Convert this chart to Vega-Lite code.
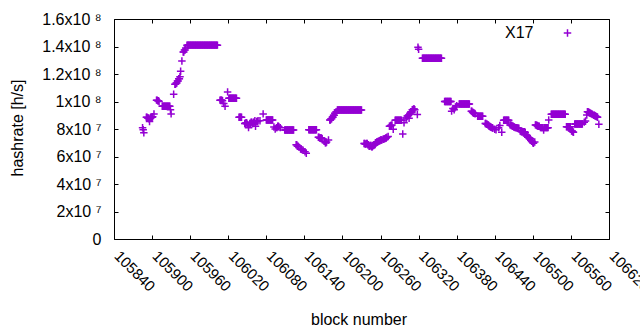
{
 "$schema": "https://vega.github.io/schema/vega-lite/v6.json",
 "width": 495, "height": 220,
 "autosize": {"type": "none"},
 "padding": {"left": 114, "top": 19, "right": 31, "bottom": 91},
 "background": "white",
 "config": {
  "font": "Liberation Sans",
  "view": {"stroke": "black", "strokeWidth": 1},
  "axis": {"grid": false, "domain": false, "tickColor": "black", "tickSize": -4, "tickWidth": 1, "labelColor": "black", "titleColor": "black", "labelFont": "Liberation Sans", "titleFont": "Liberation Sans", "titleFontWeight": "normal"}
 },
 "data": {"values": [
  {"b":105885,"mhs":81},{"b":105886,"mhs":79.5},{"b":105887,"mhs":77.3},
  {"b":105891,"mhs":88.5},{"b":105892,"mhs":88.5},{"b":105893,"mhs":88},{"b":105894,"mhs":88},{"b":105895,"mhs":87.5},{"b":105896,"mhs":85.5},{"b":105897,"mhs":88},{"b":105898,"mhs":88},{"b":105899,"mhs":88.5},{"b":105900,"mhs":88.5},{"b":105901,"mhs":89},{"b":105903,"mhs":91},
  {"b":105907,"mhs":101},{"b":105908,"mhs":101},{"b":105909,"mhs":100.5},{"b":105910,"mhs":100.5},{"b":105911,"mhs":100},
  {"b":105916,"mhs":96.5},{"b":105917,"mhs":96.5},{"b":105918,"mhs":96.5},{"b":105919,"mhs":96.5},{"b":105920,"mhs":96.5},{"b":105921,"mhs":96.5},{"b":105922,"mhs":96.5},{"b":105923,"mhs":96.5},{"b":105924,"mhs":96.5},{"b":105925,"mhs":96.5},{"b":105926,"mhs":96.5},{"b":105927,"mhs":96.5},{"b":105928,"mhs":96.5},{"b":105929,"mhs":94},{"b":105930,"mhs":91},
  {"b":105934,"mhs":105.2},
  {"b":105936,"mhs":112.5},{"b":105937,"mhs":112.5},{"b":105938,"mhs":113.5},{"b":105939,"mhs":113.5},{"b":105940,"mhs":115},{"b":105941,"mhs":115},{"b":105942,"mhs":116.5},{"b":105943,"mhs":116.5},{"b":105944,"mhs":118},{"b":105945,"mhs":122},
  {"b":105947,"mhs":129.5},
  {"b":105949,"mhs":136},{"b":105950,"mhs":136},{"b":105951,"mhs":137.5},{"b":105952,"mhs":137.5},{"b":105953,"mhs":139},
  {"b":105955,"mhs":141},{"b":105956,"mhs":141},{"b":105957,"mhs":141},{"b":105958,"mhs":141},{"b":105959,"mhs":141},{"b":105960,"mhs":141},{"b":105961,"mhs":141},{"b":105962,"mhs":141},{"b":105963,"mhs":141},{"b":105964,"mhs":141},{"b":105965,"mhs":141},{"b":105966,"mhs":141},{"b":105967,"mhs":141},{"b":105968,"mhs":141},{"b":105969,"mhs":141},{"b":105970,"mhs":141},{"b":105971,"mhs":141},{"b":105972,"mhs":141},{"b":105973,"mhs":141},{"b":105974,"mhs":141},{"b":105975,"mhs":141},{"b":105976,"mhs":141},{"b":105977,"mhs":141},{"b":105978,"mhs":141},{"b":105979,"mhs":141},{"b":105980,"mhs":141},{"b":105981,"mhs":141},{"b":105982,"mhs":141},{"b":105983,"mhs":141},{"b":105984,"mhs":141},{"b":105985,"mhs":141},{"b":105986,"mhs":141},{"b":105987,"mhs":141},{"b":105988,"mhs":141},{"b":105989,"mhs":141},{"b":105990,"mhs":141},{"b":105991,"mhs":141},{"b":105992,"mhs":141},{"b":105993,"mhs":141},{"b":105994,"mhs":141},{"b":105995,"mhs":141},{"b":105996,"mhs":141},{"b":105997,"mhs":141},{"b":105998,"mhs":141},{"b":105999,"mhs":141},{"b":106000,"mhs":141},{"b":106001,"mhs":141},{"b":106002,"mhs":141},{"b":106003,"mhs":141},
  {"b":106007,"mhs":101},{"b":106008,"mhs":101},{"b":106009,"mhs":101},{"b":106010,"mhs":101},{"b":106011,"mhs":100.5},{"b":106013,"mhs":98.5},{"b":106015,"mhs":96.5},{"b":106019,"mhs":107},
  {"b":106021,"mhs":102.3},{"b":106022,"mhs":102.3},{"b":106023,"mhs":102.3},{"b":106024,"mhs":102.3},{"b":106025,"mhs":102.3},{"b":106026,"mhs":102.3},{"b":106027,"mhs":102.3},{"b":106028,"mhs":102.3},{"b":106029,"mhs":102.3},{"b":106030,"mhs":102.3},{"b":106031,"mhs":102.3},{"b":106032,"mhs":102.3},{"b":106033,"mhs":102.3},
  {"b":106037,"mhs":88.5},{"b":106038,"mhs":88.5},{"b":106039,"mhs":88.5},{"b":106040,"mhs":88.5},{"b":106041,"mhs":88.5},
  {"b":106046,"mhs":84},{"b":106047,"mhs":84},{"b":106048,"mhs":84.5},{"b":106049,"mhs":84.5},{"b":106050,"mhs":83.5},{"b":106052,"mhs":81},{"b":106054,"mhs":84},{"b":106055,"mhs":84},{"b":106056,"mhs":85},{"b":106057,"mhs":85},{"b":106058,"mhs":84},{"b":106059,"mhs":84},{"b":106060,"mhs":85},{"b":106061,"mhs":85},{"b":106062,"mhs":86},{"b":106063,"mhs":82},{"b":106065,"mhs":85.5},{"b":106066,"mhs":85.5},{"b":106067,"mhs":86},{"b":106070,"mhs":86},{"b":106075,"mhs":91},
  {"b":106080,"mhs":86.5},{"b":106081,"mhs":86.5},{"b":106082,"mhs":86.5},{"b":106083,"mhs":86.5},{"b":106084,"mhs":86.5},{"b":106085,"mhs":86.5},{"b":106086,"mhs":86.5},{"b":106087,"mhs":86.5},{"b":106088,"mhs":86.5},{"b":106089,"mhs":86.5},{"b":106090,"mhs":86.5},
  {"b":106092,"mhs":81.5},{"b":106094,"mhs":80},{"b":106096,"mhs":81},{"b":106097,"mhs":81},{"b":106098,"mhs":82},{"b":106099,"mhs":82},{"b":106100,"mhs":81.5},{"b":106102,"mhs":81},
  {"b":106109,"mhs":79.3},{"b":106110,"mhs":79.3},{"b":106111,"mhs":79.3},{"b":106112,"mhs":79.3},{"b":106113,"mhs":79.3},{"b":106114,"mhs":79.3},{"b":106115,"mhs":79.3},{"b":106116,"mhs":79.3},{"b":106117,"mhs":79.3},{"b":106118,"mhs":79.3},{"b":106119,"mhs":79.3},{"b":106120,"mhs":79.3},{"b":106121,"mhs":79.3},{"b":106122,"mhs":79.3},{"b":106123,"mhs":79.3},
  {"b":106127,"mhs":68.5},{"b":106128,"mhs":68.5},{"b":106129,"mhs":67.5},{"b":106130,"mhs":67.5},{"b":106131,"mhs":67},{"b":106134,"mhs":65.5},{"b":106135,"mhs":65.5},{"b":106136,"mhs":65},{"b":106138,"mhs":64.5},{"b":106141,"mhs":63.5},{"b":106143,"mhs":62.3},
  {"b":106147,"mhs":79.5},{"b":106148,"mhs":79.5},{"b":106149,"mhs":79.5},{"b":106150,"mhs":79.5},{"b":106151,"mhs":79.5},{"b":106152,"mhs":79.5},{"b":106153,"mhs":79.5},{"b":106154,"mhs":79.5},{"b":106155,"mhs":79.5},{"b":106156,"mhs":79.5},{"b":106157,"mhs":79.5},{"b":106158,"mhs":79.5},{"b":106159,"mhs":79.5},
  {"b":106162,"mhs":74},{"b":106163,"mhs":74},{"b":106164,"mhs":73.5},{"b":106165,"mhs":73.5},{"b":106166,"mhs":73.5},{"b":106167,"mhs":73.5},{"b":106168,"mhs":73},
  {"b":106171,"mhs":71},{"b":106172,"mhs":71},{"b":106173,"mhs":70},{"b":106174,"mhs":70},{"b":106175,"mhs":70.5},{"b":106178,"mhs":72},
  {"b":106180,"mhs":86.5},{"b":106181,"mhs":86.5},{"b":106182,"mhs":87.5},{"b":106183,"mhs":87.5},{"b":106184,"mhs":88.5},{"b":106185,"mhs":88.5},{"b":106186,"mhs":90},{"b":106187,"mhs":90},{"b":106188,"mhs":91.5},{"b":106189,"mhs":91.5},{"b":106190,"mhs":92.5},
  {"b":106192,"mhs":93.8},{"b":106193,"mhs":93.8},{"b":106194,"mhs":93.8},{"b":106195,"mhs":93.8},{"b":106196,"mhs":93.8},{"b":106197,"mhs":93.8},{"b":106198,"mhs":93.8},{"b":106199,"mhs":93.8},{"b":106200,"mhs":93.8},{"b":106201,"mhs":93.8},{"b":106202,"mhs":93.8},{"b":106203,"mhs":93.8},{"b":106204,"mhs":93.8},{"b":106205,"mhs":93.8},{"b":106206,"mhs":93.8},{"b":106207,"mhs":93.8},{"b":106208,"mhs":93.8},{"b":106209,"mhs":93.8},{"b":106210,"mhs":93.8},{"b":106211,"mhs":93.8},{"b":106212,"mhs":93.8},{"b":106213,"mhs":93.8},{"b":106214,"mhs":93.8},{"b":106215,"mhs":93.8},{"b":106216,"mhs":93.8},{"b":106217,"mhs":93.8},{"b":106218,"mhs":93.8},{"b":106219,"mhs":93.8},{"b":106220,"mhs":93.8},{"b":106221,"mhs":93.8},{"b":106222,"mhs":93.8},{"b":106223,"mhs":93.8},{"b":106224,"mhs":93.8},{"b":106225,"mhs":93.8},{"b":106226,"mhs":93.8},{"b":106227,"mhs":93.8},{"b":106228,"mhs":93.8},{"b":106229,"mhs":93.8},{"b":106230,"mhs":93.8},
  {"b":106234,"mhs":69.5},{"b":106235,"mhs":69.5},{"b":106236,"mhs":69},{"b":106237,"mhs":69},{"b":106238,"mhs":69.5},{"b":106239,"mhs":69.5},{"b":106240,"mhs":68.5},{"b":106241,"mhs":68.5},{"b":106242,"mhs":67.5},{"b":106243,"mhs":67.5},{"b":106244,"mhs":68},{"b":106245,"mhs":68},{"b":106246,"mhs":67},{"b":106247,"mhs":67},{"b":106248,"mhs":68},{"b":106249,"mhs":68},{"b":106250,"mhs":68.5},{"b":106251,"mhs":68.5},{"b":106252,"mhs":70},{"b":106253,"mhs":70},{"b":106254,"mhs":70.5},{"b":106255,"mhs":70.5},{"b":106256,"mhs":71},{"b":106257,"mhs":71},{"b":106258,"mhs":71.5},{"b":106259,"mhs":71.5},{"b":106260,"mhs":72},{"b":106261,"mhs":72},{"b":106262,"mhs":72},{"b":106264,"mhs":72.5},{"b":106265,"mhs":72.5},{"b":106266,"mhs":73},{"b":106267,"mhs":73},{"b":106268,"mhs":73.5},{"b":106269,"mhs":73.5},{"b":106270,"mhs":74},{"b":106272,"mhs":74.5},
  {"b":106274,"mhs":82},{"b":106275,"mhs":82},{"b":106276,"mhs":82.5},{"b":106277,"mhs":82.5},{"b":106278,"mhs":83},{"b":106280,"mhs":79.8},
  {"b":106283,"mhs":86.3},{"b":106284,"mhs":86.3},{"b":106285,"mhs":86.3},{"b":106286,"mhs":86.3},{"b":106287,"mhs":86.3},{"b":106288,"mhs":86.3},{"b":106289,"mhs":86.3},{"b":106290,"mhs":86.3},{"b":106291,"mhs":86.3},{"b":106292,"mhs":86.3},{"b":106293,"mhs":86.3},{"b":106295,"mhs":76.4},{"b":106297,"mhs":84.6},
  {"b":106300,"mhs":88},{"b":106301,"mhs":88},{"b":106302,"mhs":89.5},{"b":106303,"mhs":89.5},{"b":106304,"mhs":90},{"b":106305,"mhs":87.8},{"b":106306,"mhs":91},{"b":106307,"mhs":91},{"b":106308,"mhs":92.5},{"b":106309,"mhs":92.5},{"b":106310,"mhs":94},{"b":106311,"mhs":94},{"b":106312,"mhs":94.5},{"b":106313,"mhs":94.5},{"b":106314,"mhs":94},{"b":106318,"mhs":90.5},
  {"b":106319,"mhs":139.5},{"b":106320,"mhs":138},
  {"b":106326,"mhs":131.5},{"b":106327,"mhs":131.5},{"b":106328,"mhs":131.5},{"b":106329,"mhs":131.5},{"b":106330,"mhs":131.5},{"b":106331,"mhs":131.5},{"b":106332,"mhs":131.5},{"b":106333,"mhs":131.5},{"b":106334,"mhs":131.5},{"b":106335,"mhs":131.5},{"b":106336,"mhs":131.5},{"b":106337,"mhs":131.5},{"b":106338,"mhs":131.5},{"b":106339,"mhs":131.5},{"b":106340,"mhs":131.5},{"b":106341,"mhs":131.5},{"b":106342,"mhs":131.5},{"b":106343,"mhs":131.5},{"b":106344,"mhs":131.5},{"b":106345,"mhs":131.5},{"b":106346,"mhs":131.5},{"b":106347,"mhs":131.5},{"b":106348,"mhs":131.5},{"b":106349,"mhs":131.5},{"b":106350,"mhs":131.5},{"b":106351,"mhs":131.5},{"b":106352,"mhs":131.5},{"b":106353,"mhs":131.5},{"b":106354,"mhs":131.5},{"b":106355,"mhs":131.5},{"b":106356,"mhs":131.5},
  {"b":106361,"mhs":100},{"b":106362,"mhs":100},{"b":106363,"mhs":100},{"b":106364,"mhs":100},{"b":106365,"mhs":100},{"b":106366,"mhs":100},{"b":106367,"mhs":100},{"b":106368,"mhs":100},{"b":106369,"mhs":100},{"b":106370,"mhs":100},{"b":106371,"mhs":100},
  {"b":106372,"mhs":93},{"b":106374,"mhs":95},{"b":106376,"mhs":94},{"b":106378,"mhs":96},{"b":106380,"mhs":97},
  {"b":106384,"mhs":98.2},{"b":106385,"mhs":98.2},{"b":106386,"mhs":98.2},{"b":106387,"mhs":98.2},{"b":106388,"mhs":98.2},{"b":106389,"mhs":98.2},{"b":106390,"mhs":98.2},{"b":106391,"mhs":98.2},{"b":106392,"mhs":98.2},{"b":106393,"mhs":98.2},{"b":106394,"mhs":98.2},{"b":106395,"mhs":98.2},{"b":106396,"mhs":98.2},{"b":106397,"mhs":98.2},{"b":106398,"mhs":98.2},{"b":106399,"mhs":98.2},{"b":106400,"mhs":98.2},
  {"b":106403,"mhs":93},{"b":106404,"mhs":93},{"b":106405,"mhs":92},{"b":106406,"mhs":92},{"b":106407,"mhs":91.5},{"b":106408,"mhs":91.5},{"b":106409,"mhs":91},
  {"b":106413,"mhs":89.3},{"b":106414,"mhs":89.3},{"b":106415,"mhs":89.3},{"b":106416,"mhs":89.3},{"b":106417,"mhs":89.3},{"b":106418,"mhs":89.3},{"b":106419,"mhs":89.3},{"b":106420,"mhs":89.3},{"b":106421,"mhs":89.3},
  {"b":106425,"mhs":84},{"b":106426,"mhs":84},{"b":106427,"mhs":83.5},{"b":106428,"mhs":83.5},{"b":106429,"mhs":83},{"b":106430,"mhs":83},{"b":106431,"mhs":82},{"b":106432,"mhs":82},{"b":106433,"mhs":81.5},{"b":106434,"mhs":81.5},{"b":106435,"mhs":81},{"b":106436,"mhs":81},{"b":106437,"mhs":80.5},{"b":106440,"mhs":79.8},{"b":106442,"mhs":79.5},{"b":106446,"mhs":81},{"b":106448,"mhs":82.5},{"b":106451,"mhs":77.6},
  {"b":106454,"mhs":86.3},{"b":106455,"mhs":86.3},{"b":106456,"mhs":86.3},{"b":106457,"mhs":86.3},{"b":106458,"mhs":86.3},{"b":106459,"mhs":86.3},{"b":106460,"mhs":86.3},{"b":106461,"mhs":86.3},{"b":106462,"mhs":86.3},
  {"b":106464,"mhs":83},{"b":106465,"mhs":83},{"b":106466,"mhs":82.5},{"b":106467,"mhs":82.5},{"b":106468,"mhs":82},{"b":106469,"mhs":82},{"b":106470,"mhs":81.5},{"b":106471,"mhs":81.5},{"b":106472,"mhs":81},{"b":106473,"mhs":81},{"b":106474,"mhs":81},{"b":106475,"mhs":81},{"b":106476,"mhs":80.5},{"b":106477,"mhs":80.5},{"b":106478,"mhs":80.5},
  {"b":106480,"mhs":78.5},{"b":106481,"mhs":78.5},{"b":106482,"mhs":78},{"b":106483,"mhs":78},{"b":106484,"mhs":78},{"b":106485,"mhs":78},{"b":106486,"mhs":78},{"b":106487,"mhs":78},{"b":106488,"mhs":77.5},
  {"b":106490,"mhs":75},{"b":106491,"mhs":75},{"b":106492,"mhs":74},{"b":106493,"mhs":74},{"b":106494,"mhs":73.5},{"b":106495,"mhs":73.5},{"b":106496,"mhs":73},
  {"b":106498,"mhs":71},{"b":106499,"mhs":71},{"b":106500,"mhs":70},{"b":106501,"mhs":69.6},{"b":106503,"mhs":70.5},
  {"b":106504,"mhs":83},{"b":106505,"mhs":83},{"b":106506,"mhs":82.5},{"b":106507,"mhs":82.5},{"b":106508,"mhs":82},{"b":106509,"mhs":82},{"b":106510,"mhs":82},
  {"b":106512,"mhs":81},{"b":106513,"mhs":81},{"b":106514,"mhs":81},{"b":106515,"mhs":81},{"b":106516,"mhs":81},{"b":106517,"mhs":79.3},{"b":106518,"mhs":81},{"b":106519,"mhs":81},{"b":106520,"mhs":81},{"b":106521,"mhs":81},{"b":106522,"mhs":81},{"b":106523,"mhs":81},{"b":106524,"mhs":81},
  {"b":106525,"mhs":86.5},
  {"b":106529,"mhs":90.7},{"b":106530,"mhs":90.7},{"b":106531,"mhs":90.7},{"b":106532,"mhs":90.7},{"b":106533,"mhs":90.7},{"b":106534,"mhs":90.7},{"b":106535,"mhs":90.7},{"b":106536,"mhs":90.7},{"b":106537,"mhs":90.7},{"b":106538,"mhs":90.7},{"b":106539,"mhs":90.7},{"b":106540,"mhs":90.7},{"b":106541,"mhs":90.7},{"b":106542,"mhs":90.7},{"b":106543,"mhs":90.7},{"b":106544,"mhs":90.7},{"b":106545,"mhs":90.7},{"b":106546,"mhs":90.7},{"b":106547,"mhs":90.7},{"b":106548,"mhs":90.7},{"b":106549,"mhs":90.7},{"b":106550,"mhs":90.7},{"b":106551,"mhs":90.7},
  {"b":106553,"mhs":81.7},{"b":106554,"mhs":81.7},{"b":106555,"mhs":81.7},{"b":106556,"mhs":81.7},{"b":106557,"mhs":81.7},{"b":106558,"mhs":81.7},{"b":106559,"mhs":81.7},
  {"b":106561,"mhs":78.5},{"b":106562,"mhs":78.5},{"b":106563,"mhs":78},{"b":106564,"mhs":77.6},
  {"b":106566,"mhs":83.6},{"b":106567,"mhs":83.6},{"b":106568,"mhs":83.6},{"b":106569,"mhs":83.6},{"b":106570,"mhs":83.6},{"b":106571,"mhs":83.6},{"b":106572,"mhs":83.6},{"b":106573,"mhs":83.6},{"b":106574,"mhs":83.6},{"b":106575,"mhs":83.6},{"b":106576,"mhs":83.6},{"b":106577,"mhs":83.6},{"b":106578,"mhs":83.6},
  {"b":106581,"mhs":85},{"b":106583,"mhs":85.8},{"b":106585,"mhs":90.2},
  {"b":106586,"mhs":92.5},{"b":106587,"mhs":92.5},{"b":106588,"mhs":92},{"b":106589,"mhs":92},{"b":106590,"mhs":91.5},{"b":106591,"mhs":91.5},{"b":106592,"mhs":91},{"b":106593,"mhs":91},{"b":106594,"mhs":90.5},
  {"b":106596,"mhs":90},{"b":106597,"mhs":90},{"b":106598,"mhs":89.5},{"b":106599,"mhs":89.5},{"b":106600,"mhs":89},{"b":106601,"mhs":89},{"b":106602,"mhs":88.5},{"b":106604,"mhs":83.4}
 ]},
 "layer": [
  {
   "mark": {"type": "point", "opacity": 0},
   "encoding": {
    "x": {"field": "b", "type": "quantitative", "scale": {"domain": [105840, 106620], "nice": false, "zero": false},
          "axis": {"orient": "top", "labels": false, "title": null, "values": [105840,105900,105960,106020,106080,106140,106200,106260,106320,106380,106440,106500,106560,106620]}},
    "y": {"field": "mhs", "type": "quantitative", "scale": {"domain": [0, 160], "nice": false},
          "axis": {"orient": "right", "labels": false, "title": null, "values": [0,20,40,60,80,100,120,140,160]}}
   }
  },
  {
   "mark": {"type": "point", "shape": "M-1,0H1M0,-1V1", "size": 56, "filled": false, "strokeWidth": 1.5, "opacity": 1},
   "encoding": {
    "x": {"field": "b", "type": "quantitative", "scale": {"domain": [105840, 106620], "nice": false, "zero": false},
          "axis": {"orient": "bottom", "values": [105840,105900,105960,106020,106080,106140,106200,106260,106320,106380,106440,106500,106560,106620], "format": "d", "labelAngle": 45, "labelAlign": "left", "labelBaseline": "middle", "labelFontSize": 15, "labelPadding": 18, "labelOffset": 2.5, "labelFlush": false, "labelOverlap": false, "labelBound": false,
                   "title": "block number", "titleFontSize": 16, "titleX": 244.5, "titleY": 85.5, "titleBaseline": "alphabetic", "titleAlign": "center"}},
    "y": {"field": "mhs", "type": "quantitative", "scale": {"domain": [0, 160], "nice": false},
          "axis": {"orient": "left", "values": [0,20,40,60,80,100,120,140,160], "labelExpr": "datum.value == 0 ? '0' : (datum.value < 100 ? (datum.value / 10) + 'x10 ⁷' : (datum.value / 100) + 'x10 ⁸')", "labelFontSize": 16, "labelPadding": 17, "labelBaseline": "middle",
                   "title": "hashrate [h/s]", "titleFontSize": 16, "titleX": -97, "titleY": 108.5, "titleAngle": -90, "titleBaseline": "middle", "titleAlign": "center"}},
    "color": {"datum": "X17", "type": "nominal", "scale": {"range": ["#9400d3"]},
              "legend": {"title": null, "orient": "none", "legendX": 445.5, "legendY": 6, "padding": 0, "symbolType": "M-1,0H1M0,-1V1", "symbolSize": 56, "symbolStrokeWidth": 1.5, "symbolFillColor": "transparent", "symbolStrokeColor": "#9400d3", "labelFontSize": 16, "labelColor": "black", "labelAlign": "right", "labelOffset": -42}}
   }
  }
 ],
 "resolve": {"axis": {"x": "independent", "y": "independent"}}
}
